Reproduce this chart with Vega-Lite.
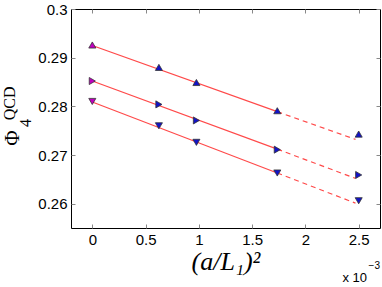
{
  "$schema": "https://vega.github.io/schema/vega-lite/v6.json",
  "width": 309,
  "height": 219,
  "autosize": "none",
  "padding": {"left": 71, "top": 9, "right": 2, "bottom": 59},
  "background": "white",
  "config": {
    "view": {"stroke": "black", "strokeWidth": 1},
    "axis": {
      "grid": false,
      "domain": false,
      "labelFont": "Liberation Sans",
      "labelFontSize": 15,
      "labelColor": "black",
      "tickColor": "#888888",
      "tickSize": -4,
      "labelPadding": 8
    }
  },
  "datasets": {
    "pts": [
      {"series": "A", "x": 0, "y": 0.2926},
      {"series": "A", "x": 0.625, "y": 0.2880},
      {"series": "A", "x": 0.977, "y": 0.2849},
      {"series": "A", "x": 1.736, "y": 0.2791},
      {"series": "A", "x": 2.5, "y": 0.2743},
      {"series": "B", "x": 0, "y": 0.2852},
      {"series": "B", "x": 0.625, "y": 0.2804},
      {"series": "B", "x": 0.977, "y": 0.2771},
      {"series": "B", "x": 1.736, "y": 0.2711},
      {"series": "B", "x": 2.5, "y": 0.2659},
      {"series": "C", "x": 0, "y": 0.2810},
      {"series": "C", "x": 0.625, "y": 0.2760},
      {"series": "C", "x": 0.977, "y": 0.2726},
      {"series": "C", "x": 1.736, "y": 0.2663},
      {"series": "C", "x": 2.5, "y": 0.2606}
    ],
    "fits": [
      {"series": "A", "seg": "solid", "x": 0, "y": 0.2925},
      {"series": "A", "seg": "solid", "x": 1.736, "y": 0.2789},
      {"series": "A", "seg": "dashed", "x": 1.736, "y": 0.2789},
      {"series": "A", "seg": "dashed", "x": 2.47, "y": 0.2732},
      {"series": "B", "seg": "solid", "x": 0, "y": 0.2852},
      {"series": "B", "seg": "solid", "x": 1.736, "y": 0.2712},
      {"series": "B", "seg": "dashed", "x": 1.736, "y": 0.2712},
      {"series": "B", "seg": "dashed", "x": 2.47, "y": 0.2652},
      {"series": "C", "seg": "solid", "x": 0, "y": 0.2809},
      {"series": "C", "seg": "solid", "x": 1.736, "y": 0.2663},
      {"series": "C", "seg": "dashed", "x": 1.736, "y": 0.2663},
      {"series": "C", "seg": "dashed", "x": 2.47, "y": 0.2601}
    ],
    "notes": [{"t": "x 10", "e": "−3"}]
  },
  "resolve": {"axis": {"x": "independent", "y": "independent"}},
  "layer": [
    {
      "data": {"name": "fits"},
      "transform": [{"filter": "datum.seg == 'solid'"}],
      "mark": {"type": "line", "color": "#ff4a4a", "strokeWidth": 1.2},
      "encoding": {
        "x": {"field": "x", "type": "quantitative", "scale": {"domain": [-0.2, 2.7], "nice": false, "zero": false},
          "axis": {"orient": "bottom", "values": [0, 0.5, 1, 1.5, 2, 2.5], "format": "~g",
            "title": "(a/L₁)²", "titleFont": "Liberation Serif", "titleFontStyle": "italic", "titleFontWeight": "normal", "titleFontSize": 26, "titleColor": "black", "titlePadding": 1}},
        "y": {"field": "y", "type": "quantitative", "scale": {"domain": [0.255, 0.3], "nice": false, "zero": false},
          "axis": {"orient": "left", "values": [0.26, 0.27, 0.28, 0.29, 0.3], "format": "~g", "title": null}},
        "detail": {"field": "series"}
      }
    },
    {
      "data": {"name": "fits"},
      "transform": [{"filter": "datum.seg == 'dashed'"}],
      "mark": {"type": "line", "color": "#ff4a4a", "strokeWidth": 1.2, "strokeDash": [5, 4]},
      "encoding": {
        "x": {"field": "x", "type": "quantitative", "scale": {"domain": [-0.2, 2.7], "nice": false, "zero": false},
          "axis": {"orient": "top", "values": [0, 0.5, 1, 1.5, 2, 2.5], "labels": false, "title": null}},
        "y": {"field": "y", "type": "quantitative", "scale": {"domain": [0.255, 0.3], "nice": false, "zero": false},
          "axis": {"orient": "right", "values": [0.26, 0.27, 0.28, 0.29, 0.3], "labels": false, "title": null}},
        "detail": {"field": "series"}
      }
    },
    {
      "data": {"name": "pts"},
      "mark": {"type": "point", "filled": true, "size": 50, "stroke": "#333333", "strokeWidth": 0.8, "opacity": 1},
      "encoding": {
        "x": {"field": "x", "type": "quantitative", "axis": null},
        "y": {"field": "y", "type": "quantitative", "axis": null},
        "shape": {"field": "series", "type": "nominal", "legend": null,
          "scale": {"domain": ["A", "B", "C"], "range": ["triangle-up", "triangle-right", "triangle-down"]}},
        "fill": {"condition": {"test": "datum.x == 0", "value": "#c000c0"}, "value": "#1212c8"}
      }
    },
    {
      "data": {"name": "notes"},
      "mark": {"type": "text", "text": "Φ", "font": "Liberation Serif", "fontSize": 21, "angle": 270, "align": "center", "baseline": "middle", "color": "black", "dy": -58},
      "encoding": {"x": {"datum": -0.2, "type": "quantitative", "axis": null}, "y": {"datum": 0.2735, "type": "quantitative", "axis": null}}
    },
    {
      "data": {"name": "notes"},
      "mark": {"type": "text", "text": "4", "font": "Liberation Serif", "fontSize": 16, "angle": 270, "align": "center", "baseline": "middle", "color": "black", "dy": -45},
      "encoding": {"x": {"datum": -0.2, "type": "quantitative", "axis": null}, "y": {"datum": 0.2766, "type": "quantitative", "axis": null}}
    },
    {
      "data": {"name": "notes"},
      "mark": {"type": "text", "text": "QCD", "font": "Liberation Serif", "fontSize": 16, "angle": 270, "align": "center", "baseline": "middle", "color": "black", "dy": -61},
      "encoding": {"x": {"datum": -0.2, "type": "quantitative", "axis": null}, "y": {"datum": 0.2806, "type": "quantitative", "axis": null}}
    },
    {
      "data": {"name": "notes"},
      "mark": {"type": "text", "font": "Liberation Sans", "fontSize": 13, "align": "right", "baseline": "alphabetic", "color": "black", "dx": -13, "dy": 54},
      "encoding": {"text": {"field": "t"}, "x": {"datum": 2.7, "type": "quantitative", "axis": null}, "y": {"datum": 0.255, "type": "quantitative", "axis": null}}
    },
    {
      "data": {"name": "notes"},
      "mark": {"type": "text", "font": "Liberation Sans", "fontSize": 10, "align": "right", "baseline": "alphabetic", "color": "black", "dx": 0, "dy": 41},
      "encoding": {"text": {"field": "e"}, "x": {"datum": 2.7, "type": "quantitative", "axis": null}, "y": {"datum": 0.255, "type": "quantitative", "axis": null}}
    }
  ]
}
